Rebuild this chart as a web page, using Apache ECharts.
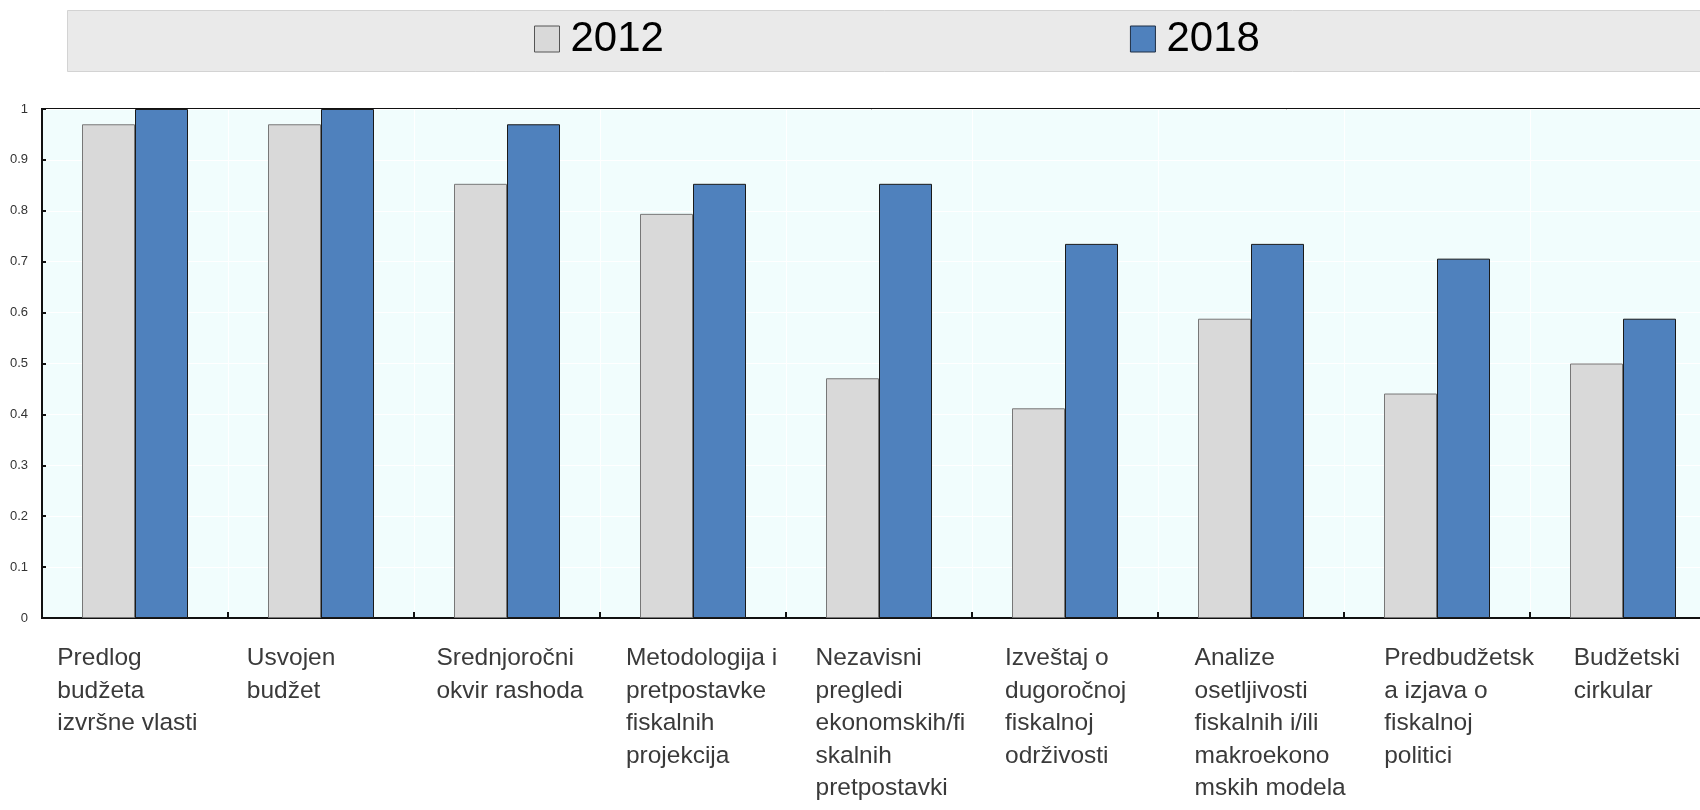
<!DOCTYPE html>
<html>
<head>
<meta charset="utf-8">
<script src="https://cdn.jsdelivr.net/npm/echarts@6/dist/echarts.min.js"></script>
<style>
html,body{margin:0;padding:0;background:#fff;}
#chart{width:1700px;height:810px;}
</style>
</head>
<body>
<div id="chart"></div>
<script>
// Data
var categories = [
  "Predlog budžeta izvršne vlasti",
  "Usvojen budžet",
  "Srednjoročni okvir rashoda",
  "Metodologija i pretpostavke fiskalnih projekcija",
  "Nezavisni pregledi ekonomskih/fiskalnih pretpostavki",
  "Izveštaj o dugoročnoj fiskalnoj održivosti",
  "Analize osetljivosti fiskalnih i/ili makroekonomskih modela",
  "Predbudžetska izjava o fiskalnoj politici",
  "Budžetski cirkular"
];
var tickLabels = [
  ["Predlog", "budžeta", "izvršne vlasti"],
  ["Usvojen", "budžet"],
  ["Srednjoročni", "okvir rashoda"],
  ["Metodologija i", "pretpostavke", "fiskalnih", "projekcija"],
  ["Nezavisni", "pregledi", "ekonomskih/fi", "skalnih", "pretpostavki"],
  ["Izveštaj o", "dugoročnoj", "fiskalnoj", "održivosti"],
  ["Analize", "osetljivosti", "fiskalnih i/ili", "makroekono", "mskih modela"],
  ["Predbudžetsk", "a izjava o", "fiskalnoj", "politici"],
  ["Budžetski", "cirkular"]
];
var seriesNames = ["2012", "2018"];
var values2012 = [0.97, 0.97, 0.853, 0.794, 0.471, 0.412, 0.588, 0.441, 0.5];
var values2018 = [1.0, 1.0, 0.97, 0.853, 0.853, 0.735, 0.735, 0.706, 0.588];

var sans = "'Liberation Sans', Arial, sans-serif";

var chart = echarts.init(document.getElementById('chart'), null, {renderer: 'canvas'});
var option = {
  animation: false,
  backgroundColor: '#ffffff',
  graphic: [{
    type: 'rect',
    silent: true,
    z: -10,
    shape: {x: 67.5, y: 10.5, width: 1660, height: 61},
    style: {fill: '#EAEAEA', stroke: '#D3D3D3', lineWidth: 1}
  }],
  legend: {
    left: 529,
    top: 13,
    itemWidth: 25,
    itemHeight: 26,
    itemGap: 466,
    icon: 'rect',
    textStyle: {fontFamily: sans, fontSize: 42, color: '#000', padding: [0, 0, 0, 6]},
    data: [
      {name: seriesNames[0], itemStyle: {color: '#D9D9D9', borderColor: '#555', borderWidth: 1}},
      {name: seriesNames[1], itemStyle: {color: '#4F81BD', borderColor: '#1f2f45', borderWidth: 1}}
    ]
  },
  grid: [
    {
      left: 42,
      top: 109,
      right: -16,
      height: 509,
      outerBoundsMode: 'none',
      show: true,
      backgroundColor: '#F1FDFD',
      borderColor: '#111',
      borderWidth: 2
    },
    {
      left: 41,
      top: 109,
      right: -47,
      height: 509,
      outerBoundsMode: 'none',
      show: false
    }
  ],
  xAxis: [
    {
      type: 'category',
      gridIndex: 0,
      data: categories,
      axisLine: {lineStyle: {color: '#111', width: 2}},
      axisTick: {show: true, interval: 0, inside: true, length: 6, lineStyle: {color: '#111', width: 2}},
      splitLine: {show: true, interval: 0, lineStyle: {color: '#ffffff', width: 1}},
      axisLabel: {show: false, interval: 0}
    },
    {
      type: 'category',
      gridIndex: 1,
      data: categories,
      axisLine: {show: false},
      axisTick: {show: false},
      splitLine: {show: false},
      axisLabel: {
        interval: 0,
        margin: 24,
        align: 'center',
        formatter: function (v, i) {
          return tickLabels[i].map(function (s) { return '{a|' + s + '}'; }).join('\n');
        },
        rich: {
          a: {
            width: 157,
            align: 'left',
            fontFamily: sans,
            fontSize: 24.5,
            lineHeight: 32.5,
            color: '#3a3a3a'
          }
        }
      }
    }
  ],
  yAxis: [
    {
      type: 'value',
      gridIndex: 0,
      min: 0,
      max: 1,
      interval: 0.1,
      axisLine: {show: true, lineStyle: {color: '#111', width: 2}},
      axisTick: {show: true, inside: true, length: 4, lineStyle: {color: '#111', width: 2}},
      splitLine: {show: true, lineStyle: {color: '#ffffff', width: 1}},
      axisLabel: {
        margin: 14,
        fontFamily: sans,
        fontSize: 13,
        color: '#333'
      }
    },
    {
      type: 'value',
      gridIndex: 1,
      min: 0,
      max: 1,
      show: false
    }
  ],
  series: [
    {
      name: seriesNames[0],
      type: 'bar',
      xAxisIndex: 0,
      yAxisIndex: 0,
      barWidth: 53,
      barGap: '0%',
      data: values2012,
      itemStyle: {color: '#D9D9D9', borderColor: '#777777', borderWidth: 1}
    },
    {
      name: seriesNames[1],
      type: 'bar',
      xAxisIndex: 0,
      yAxisIndex: 0,
      barWidth: 53,
      barGap: '0%',
      data: values2018,
      itemStyle: {color: '#4F81BD', borderColor: '#1a1a1a', borderWidth: 1}
    }
  ]
};
chart.setOption(option);
</script>
</body>
</html>
